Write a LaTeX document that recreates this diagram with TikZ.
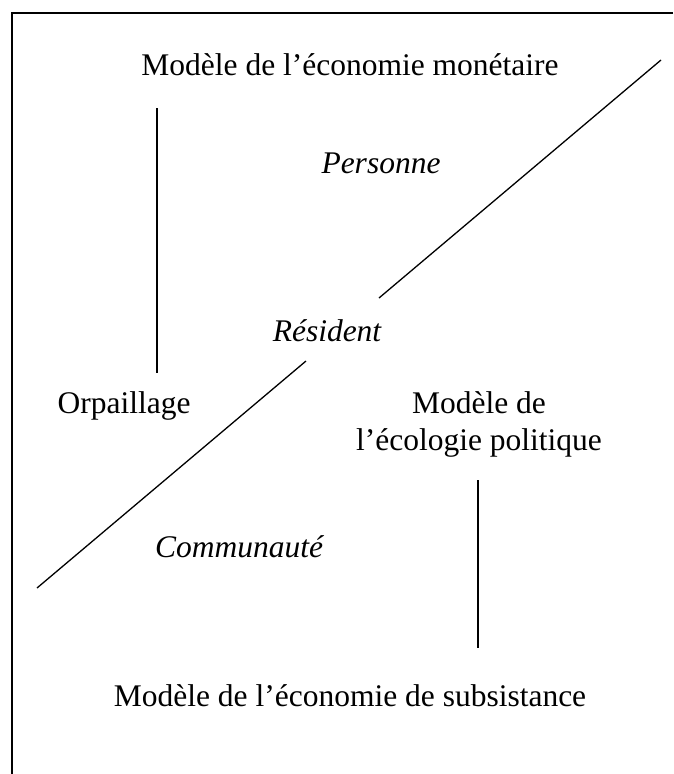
\documentclass[tikz,border=0pt]{standalone}
\usepackage{fontspec}
\setmainfont{Liberation Serif}
\begin{document}
\begin{tikzpicture}[x=1pt,y=-1pt,
  lbl/.style={inner sep=0pt,anchor=base,font=\fontsize{31.5}{37}\selectfont},
  ilbl/.style={lbl,font=\fontsize{31.5}{37}\selectfont\itshape},
  frameline/.style={line width=1.8pt},
  sepline/.style={line width=1.3pt}]
\useasboundingbox (0,0) rectangle (673,774);
% frame
\coordinate (fr1) at (673,13);
\coordinate (fr2) at (12,13);
\coordinate (fr3) at (12,774);
\draw[frameline] (fr1) -- (fr2) -- (fr3);
% texts
\node[lbl] (mon) at (350,75) {Modèle de l’économie monétaire};
\node[ilbl] (pers) at (381,173) {Personne};
\node[ilbl] (res) at (327,341) {Résident};
\node[lbl] (orp) at (124,413) {Orpaillage};
\node[lbl,align=center] (eco) at (479,450) {Modèle de\\l’écologie politique};
\node[ilbl] (com) at (239,557) {Communauté};
\node[lbl] (sub) at (350,706) {Modèle de l’économie de subsistance};
% vertical connectors
\coordinate (v1a) at (157,108);
\coordinate (v1b) at (157,373);
\coordinate (v2a) at (478,480);
\coordinate (v2b) at (478,648);
\draw[sepline] (v1a) -- (v1b);
\draw[sepline] (v2a) -- (v2b);
% diagonal
\coordinate (d1) at (661,60);
\coordinate (d2) at (379,298);
\coordinate (d3) at (306,361);
\coordinate (d4) at (37,588);
\draw[sepline] (d1) -- (d2);
\draw[sepline] (d3) -- (d4);
\end{tikzpicture}
\end{document}
